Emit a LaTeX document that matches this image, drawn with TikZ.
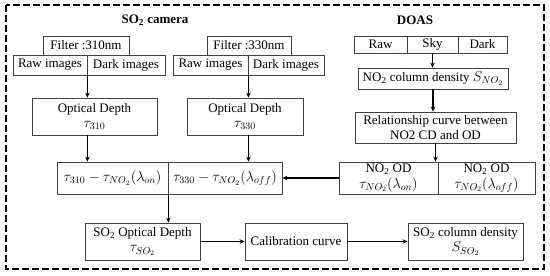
\documentclass[tikz,border=0pt]{standalone}
\usepackage{fontspec}
\setmainfont{Liberation Serif}
\usetikzlibrary{arrows.meta}
\newcommand{\odmath}[1]{{\fontsize{14.5}{15.5}\selectfont$#1$}}
\tikzset{
  cell/.style={draw=black!75, line width=0.8pt, inner sep=0pt, align=center, font=\fontsize{13}{15.5}\selectfont},
  flow/.style={-{Stealth[length=5pt,width=4.5pt]}, line width=1.1pt}
}
\begin{document}
\begin{tikzpicture}[x=1pt, y=-1pt]
  \useasboundingbox (0,0) rectangle (550,276);
  % Frame and titles
  \draw[dashed, dash pattern=on 7pt off 3pt, line width=1.6pt] (6,5) rectangle (544,269);
  \node[font=\fontsize{13}{15}\selectfont\bfseries] (camtitle) at (155,20) {SO\textsubscript{2} camera};
  \node[font=\fontsize{13}{15}\selectfont\bfseries] (doastitle) at (415,20) {DOAS};
  % SO2 camera, 310nm
  \node[cell, minimum width=86, minimum height=19] (f310) at (86,45.5) {Filter :310nm};
  \node[cell, minimum width=74, minimum height=20] (raw1) at (50,65) {Raw images};
  \node[cell, minimum width=78, minimum height=20] (dark1) at (126,65) {Dark images};
  \node[cell, minimum width=125, minimum height=37] (od310) at (94.5,116.5) {Optical Depth\\\odmath{\tau_{310}}};
  % SO2 camera, 330nm
  \node[cell, minimum width=84, minimum height=19] (f330) at (249,45.5) {Filter :330nm};
  \node[cell, minimum width=75, minimum height=20] (raw2) at (210.5,65) {Raw images};
  \node[cell, minimum width=76, minimum height=20] (dark2) at (286,65) {Dark images};
  \node[cell, minimum width=116, minimum height=37] (od330) at (245,116.5) {Optical Depth\\\odmath{\tau_{330}}};
  % Corrected optical depths
  \node[cell, minimum width=111, minimum height=32] (diff310) at (112.5,178) {\odmath{\tau_{310}-\tau_{NO_2}(\lambda_{on})}};
  \node[cell, minimum width=114, minimum height=32] (diff330) at (225,178) {\odmath{\tau_{330}-\tau_{NO_2}(\lambda_{off})}};
  % Bottom row
  \node[cell, minimum width=115, minimum height=37] (so2od) at (142.5,241.5) {SO\textsubscript{2} Optical Depth\\\odmath{\tau_{SO_2}}};
  \node[cell, minimum width=102, minimum height=37] (calib) at (296,241.5) {Calibration curve};
  \node[cell, minimum width=115, minimum height=37] (so2cd) at (465.5,241.5) {SO\textsubscript{2} column density\\\odmath{S_{SO_2}}};
  % DOAS
  \node[cell, minimum width=53, minimum height=17] (rawd) at (380.5,44.5) {Raw};
  \node[cell, minimum width=51, minimum height=17] (skyd) at (432.5,44.5) {Sky};
  \node[cell, minimum width=49, minimum height=17] (darkd) at (482.5,44.5) {Dark};
  \node[cell, minimum width=150, minimum height=21] (no2cd) at (433,78.5) {NO\textsubscript{2} column density \odmath{S_{NO_2}}};
  \node[cell, minimum width=161, minimum height=31] (relcurve) at (435.5,127.5) {Relationship curve between\\NO2 CD and OD};
  \node[cell, minimum width=99, minimum height=32] (no2on) at (388.5,178) {NO\textsubscript{2} OD\\\odmath{\tau_{NO_2}(\lambda_{on})}};
  \node[cell, minimum width=97, minimum height=32] (no2off) at (486.5,178) {NO\textsubscript{2} OD\\\odmath{\tau_{NO_2}(\lambda_{off})}};
  % Connectors
  \draw[flow] (raw1.south east) -- (raw1.south east |- od310.north);
  \draw[flow] (raw1.south east |- od310.south) -- (raw1.south east |- diff310.north);
  \draw[flow] (raw2.south east) -- (raw2.south east |- od330.north);
  \draw[flow] (raw2.south east |- od330.south) -- (raw2.south east |- diff330.north);
  \draw[flow] (diff310.south east) -- (diff310.south east |- so2od.north);
  \draw[flow] (so2od) -- (calib);
  \draw[flow] (calib) -- (so2cd);
  \draw[flow] (skyd) -- (skyd |- no2cd.north);
  \draw[flow] (no2cd) -- (no2cd |- relcurve.north);
  \draw[flow] (relcurve) -- (relcurve |- no2on.north);
  \draw[flow] (no2on) -- (diff330);
\end{tikzpicture}
\end{document}
